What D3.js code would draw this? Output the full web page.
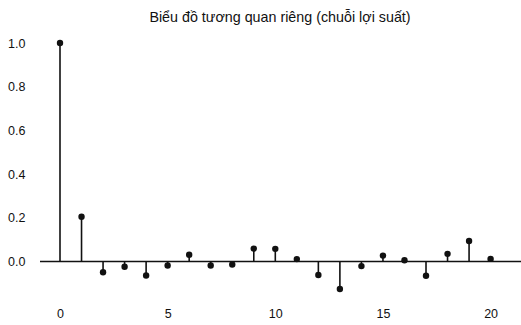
<!DOCTYPE html>
<html>
<head>
<meta charset="utf-8">
<script src="https://cdn.jsdelivr.net/npm/d3@7"></script>
<style>
  body { margin: 0; background: #fff; }
  text { font-family: "Liberation Sans", Arial, sans-serif; fill: #111; }
</style>
</head>
<body>
<svg id="chart"></svg>
<script>
// PACF values for lags 0..20
const lags = d3.range(0, 21)
const pacf = [1.0, 0.205, -0.049, -0.024, -0.064, -0.018, 0.031, -0.018, -0.014, 0.059,
    0.058, 0.011, -0.062, -0.126, -0.021, 0.027, 0.006, -0.065, 0.035, 0.094, 0.012]
const xTicks = [0, 5, 10, 15, 20]
const yTicks = [0.0, 0.2, 0.4, 0.6, 0.8, 1.0]
const title = "Biểu đồ tương quan riêng (chuỗi lợi suất)"

const width = 521
const height = 325

const svg = d3.select("#chart")
    .attr("width", width)
    .attr("height", height)

const x = d3.scaleLinear().domain([0, 20]).range([60, 490.6])
const y = d3.scaleLinear().domain([0, 1]).range([261.5, 43])

svg.append("text")
    .attr("x", 280)
    .attr("y", 22)
    .attr("text-anchor", "middle")
    .style("font-size", "14.3px")
    .text(title)

// y axis labels (no line, no ticks)
const yAxis = svg.append("g")
    .attr("transform", "translate(25.5,0)")
    .call(d3.axisLeft(y).tickValues(yTicks).tickFormat(d3.format(".1f")).tickSize(0).tickPadding(0))
yAxis.select(".domain").remove()
yAxis.selectAll("text").style("font-size", "12.5px").attr("fill", "#111")

// x axis labels
const xAxis = svg.append("g")
    .attr("transform", "translate(0,309)")
    .call(d3.axisBottom(x).tickValues(xTicks).tickFormat(d3.format("d")).tickSize(0).tickPadding(0))
xAxis.select(".domain").remove()
xAxis.selectAll("text").style("font-size", "12.5px").attr("fill", "#111")

// zero line
svg.append("line")
    .attr("x1", 40)
    .attr("x2", width)
    .attr("y1", y(0))
    .attr("y2", y(0))
    .attr("stroke", "#111")
    .attr("stroke-width", 1.3)

const data = lags.map((l, i) => ({ lag: l, v: pacf[i] }))

svg.append("g")
    .selectAll("line")
    .data(data)
    .join("line")
    .attr("x1", d => x(d.lag))
    .attr("x2", d => x(d.lag))
    .attr("y1", y(0))
    .attr("y2", d => y(d.v))
    .attr("stroke", "#111")
    .attr("stroke-width", 1.6)

svg.append("g")
    .selectAll("circle")
    .data(data)
    .join("circle")
    .attr("cx", d => x(d.lag))
    .attr("cy", d => y(d.v))
    .attr("r", 3.2)
    .attr("fill", "#111")
</script>
</body>
</html>
